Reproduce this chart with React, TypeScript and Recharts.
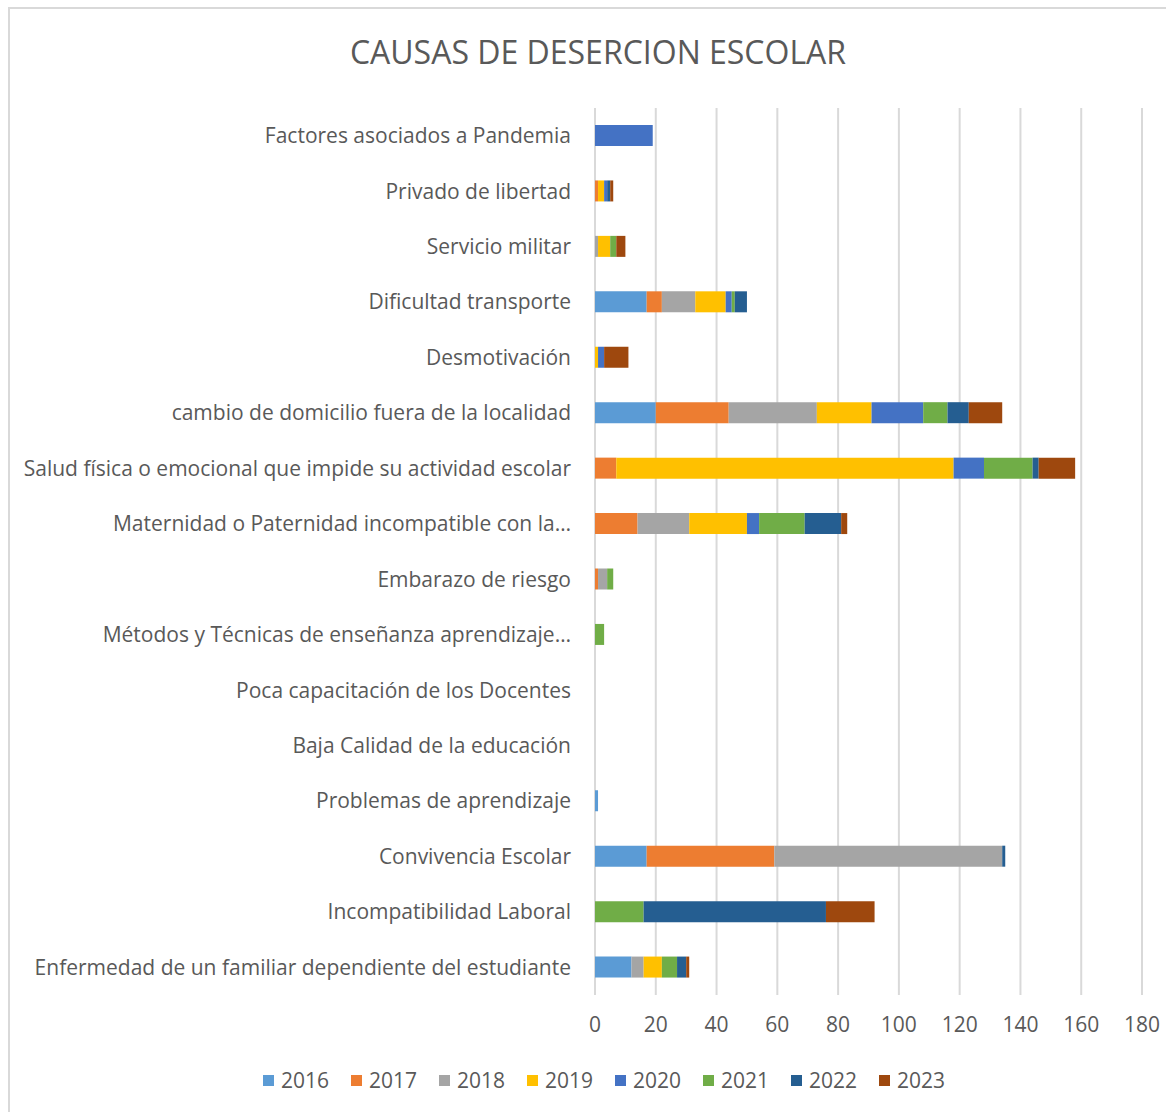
import { BarChart, Bar, XAxis, YAxis, CartesianGrid, Legend } from 'recharts';

// causas, de arriba hacia abajo
const causas = [
  'Factores asociados a Pandemia',
  'Privado de libertad',
  'Servicio militar',
  'Dificultad transporte',
  'Desmotivación',
  'cambio de domicilio fuera de la localidad',
  'Salud física o emocional que impide su actividad escolar',
  'Maternidad o Paternidad incompatible con la…',
  'Embarazo de riesgo',
  'Métodos y Técnicas de enseñanza aprendizaje…',
  'Poca capacitación de los Docentes',
  'Baja Calidad de la educación',
  'Problemas de aprendizaje',
  'Convivencia Escolar',
  'Incompatibilidad Laboral',
  'Enfermedad de un familiar dependiente del estudiante',
];

const y2016 = [0, 0, 0, 17, 0, 20, 0, 0, 0, 0, 0, 0, 1, 17, 0, 12];
const y2017 = [0, 1, 0, 5, 0, 24, 7, 14, 1, 0, 0, 0, 0, 42, 0, 0];
const y2018 = [0, 0, 1, 11, 0, 29, 0, 17, 3, 0, 0, 0, 0, 75, 0, 4];
const y2019 = [0, 2, 4, 10, 1, 18, 111, 19, 0, 0, 0, 0, 0, 0, 0, 6];
const y2020 = [19, 1, 0, 2, 2, 17, 10, 4, 0, 0, 0, 0, 0, 0, 0, 0];
const y2021 = [0, 0, 2, 1, 0, 8, 16, 15, 2, 3, 0, 0, 0, 0, 16, 5];
const y2022 = [0, 1, 0, 4, 0, 7, 2, 12, 0, 0, 0, 0, 0, 1, 60, 3];
const y2023 = [0, 1, 3, 0, 8, 11, 12, 2, 0, 0, 0, 0, 0, 0, 16, 1];

const xTicks = [0, 20, 40, 60, 80, 100, 120, 140, 160, 180];

const series = [
  { key: '2016', values: y2016, color: '#5B9BD5' },
  { key: '2017', values: y2017, color: '#ED7D31' },
  { key: '2018', values: y2018, color: '#A5A5A5' },
  { key: '2019', values: y2019, color: '#FFC000' },
  { key: '2020', values: y2020, color: '#4472C4' },
  { key: '2021', values: y2021, color: '#70AD47' },
  { key: '2022', values: y2022, color: '#255E91' },
  { key: '2023', values: y2023, color: '#9E480E' },
];

const data = causas.map((name, i) => {
  const row: Record<string, string | number> = { name };
  series.forEach(s => { row[s.key] = s.values[i]; });
  return row;
});

const FONT = '"Open Sans", "Noto Sans", sans-serif';
const GRAY_TEXT = '#595959';

const LegendContent = ({ payload }: any) => (
  <div style={{ display: 'flex', justifyContent: 'center', gap: 22, paddingLeft: 66, fontFamily: FONT, fontSize: 21, color: GRAY_TEXT, lineHeight: '28px' }}>
    {(payload || []).map((p: any) => (
      <div key={p.value} style={{ display: 'flex', alignItems: 'center', gap: 7 }}>
        <span style={{ width: 11, height: 11, background: p.color, display: 'inline-block' }} />
        <span>{p.value}</span>
      </div>
    ))}
  </div>
);

export default function App() {
  return (
    <div style={{ position: 'absolute', left: 0, top: 0, width: 1166, height: 1112, background: '#fff', overflow: 'hidden' }}>
      {/* marco del gráfico */}
      <div style={{ position: 'absolute', left: 8, top: 7, width: 1200, height: 1200, border: '2px solid #d9d9d9', boxSizing: 'border-box' }} />
      <div style={{ position: 'absolute', left: 0, width: 1196, top: 32, textAlign: 'center', fontFamily: FONT, fontSize: 32, color: GRAY_TEXT, lineHeight: '40px' }}>
        CAUSAS DE DESERCION ESCOLAR
      </div>
      <div style={{ position: 'absolute', left: 0, top: 0 }}>
        <BarChart
          width={1166}
          height={1112}
          data={data}
          layout="vertical"
          margin={{ top: 108, right: 24, left: 0, bottom: 0 }}
          barSize={21}
        >
          <CartesianGrid horizontal={false} stroke="#d9d9d9" strokeWidth={2} />
          <XAxis
            type="number"
            domain={[0, 180]}
            ticks={xTicks}
            interval={0}
            axisLine={false}
            tickLine={false}
            tickSize={0}
            tickMargin={22}
            height={72}
            tick={{ fill: GRAY_TEXT, fontSize: 21, fontFamily: FONT }}
          />
          <YAxis
            type="category"
            dataKey="name"
            width={595}
            interval={0}
            axisLine={false}
            tickLine={false}
            tickSize={0}
            tickMargin={24}
            tick={{ fill: GRAY_TEXT, fontSize: 21, fontFamily: FONT }}
          />
          <Legend
            verticalAlign="bottom"
            height={45}
            content={<LegendContent />}
            wrapperStyle={{ bottom: 1 }}
          />
          {series.map(s => (
            <Bar key={s.key} dataKey={s.key} name={s.key} stackId="a" fill={s.color} isAnimationActive={false} />
          ))}
        </BarChart>
      </div>
    </div>
  );
}
